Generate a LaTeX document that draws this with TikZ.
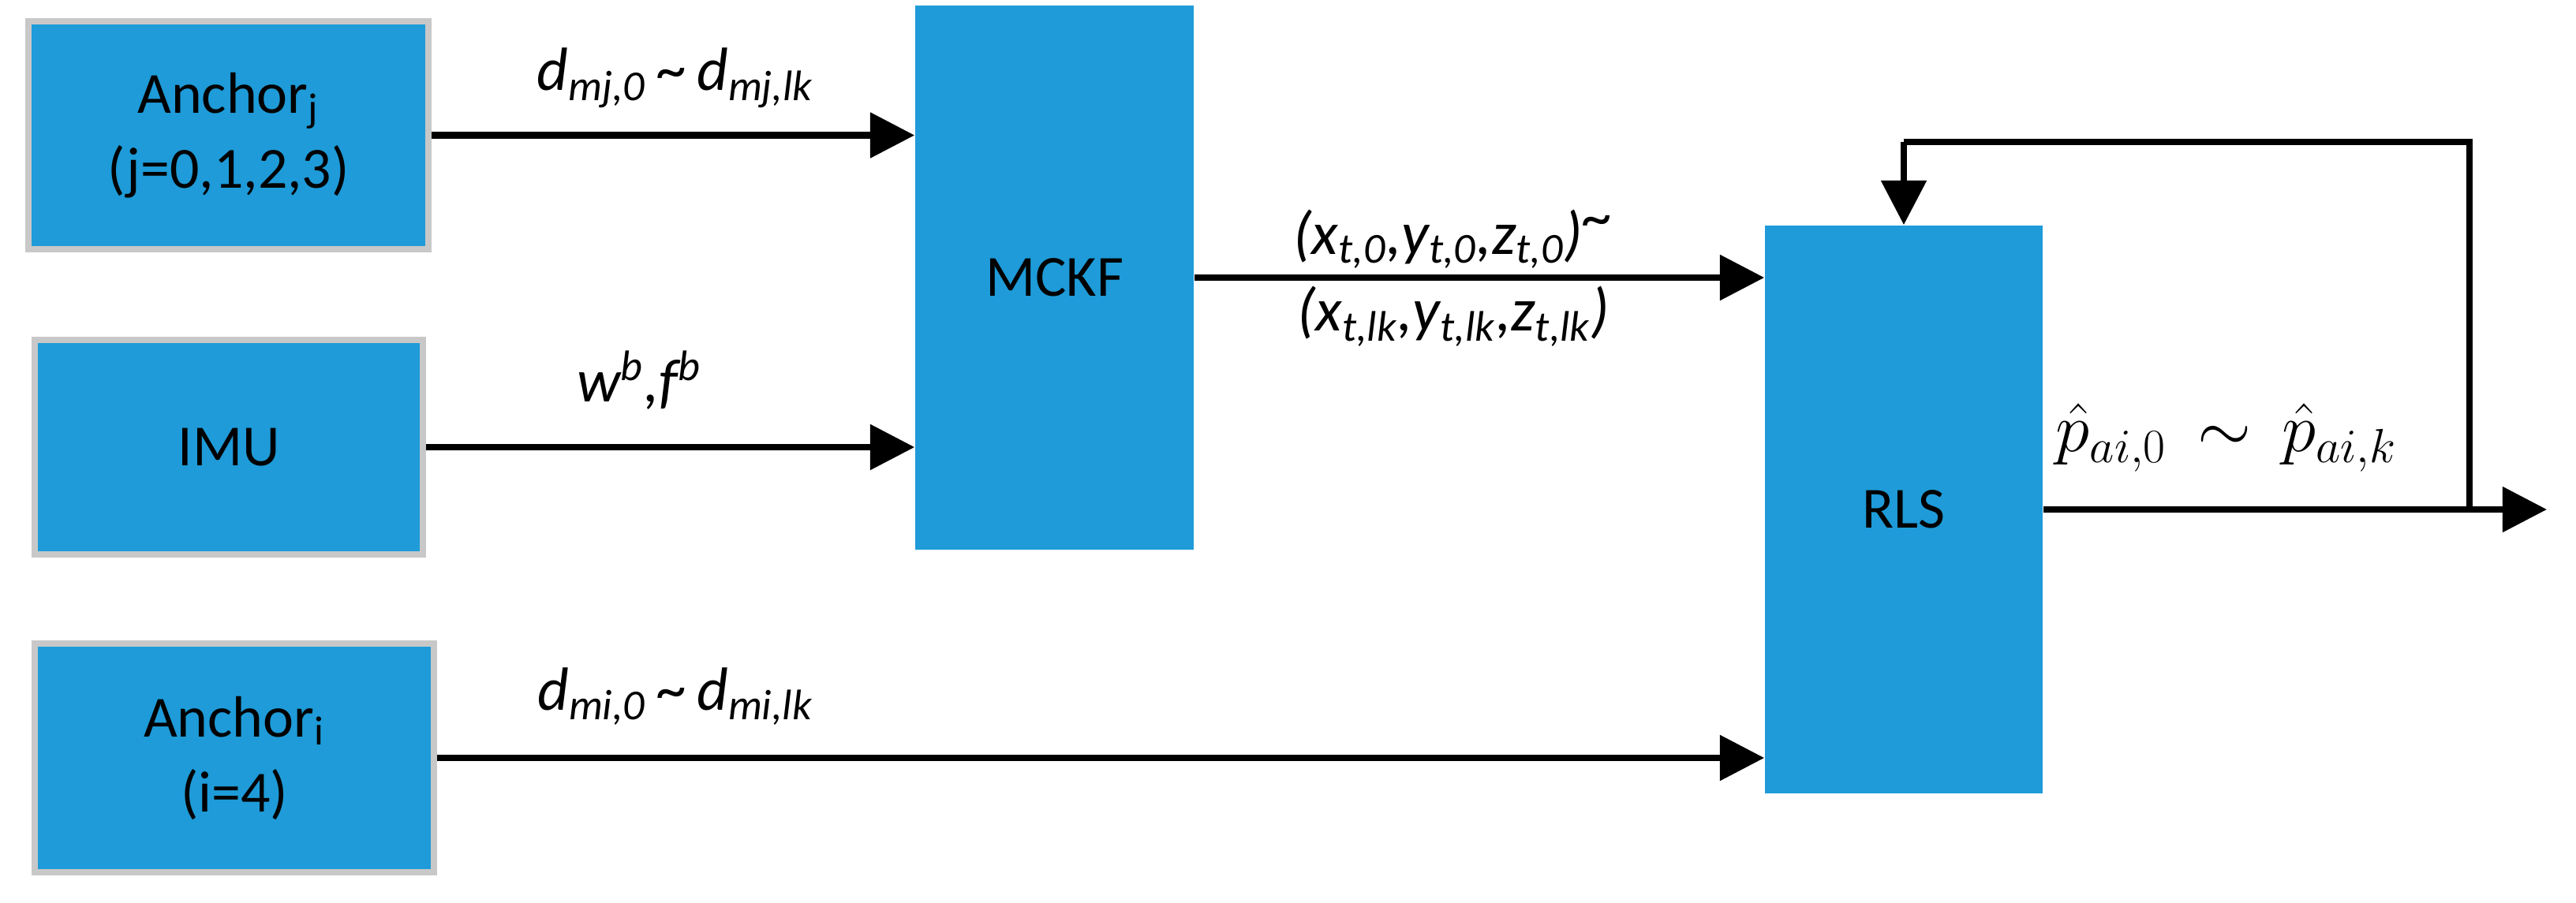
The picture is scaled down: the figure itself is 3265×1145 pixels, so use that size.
\documentclass[tikz,border=0pt]{standalone}
\usepackage{fontspec}
\setmainfont{Carlito}
\usetikzlibrary{arrows.meta}
\begin{document}
\begin{tikzpicture}[x=0.01cm,y=-0.01cm,
  blk/.style={fill={rgb,255:red,30;green,155;blue,216},inner sep=0pt,font=\fontsize{21}{27}\selectfont,align=center},
  gblk/.style={blk,draw={rgb,255:red,200;green,200;blue,200},line width=2.2pt},
  arr/.style={line width=2.3pt,-{Triangle[length=16pt,width=16pt]}},
  ln/.style={line width=2.3pt},
  lab/.style={font=\fontsize{22}{28}\selectfont\itshape,inner sep=0pt}]
\useasboundingbox (0,0) rectangle (3265,1145);
\node[gblk,minimum width=5.07cm,minimum height=2.89cm] (aj) at (289.5,171.5) {Anchor\textsubscript{j}\\(j=0,1,2,3)};
\node[gblk,minimum width=4.92cm,minimum height=2.72cm] (imu) at (290,567) {IMU};
\node[gblk,minimum width=5.06cm,minimum height=2.90cm] (ai) at (297,961) {Anchor\textsubscript{i}\\(i=4)};
\node[blk,minimum width=3.53cm,minimum height=6.90cm] (mckf) at (1336.5,352) {MCKF};
\node[blk,minimum width=3.52cm,minimum height=7.20cm] (rls) at (2413,646) {RLS};
\coordinate (out) at (3228,646);
\coordinate (fb) at (3130,646);
\coordinate (fbt) at (3130,180);
\coordinate (fbl) at (2413,180);
\draw[arr] (aj.east) -- (mckf.west |- aj.east);
\draw[arr] (imu.east) -- (mckf.west |- imu.east);
\draw[arr] (ai.east) -- (rls.west |- ai.east);
\draw[arr] (mckf.east) -- (rls.west |- mckf.east);
\draw[arr] (rls.east) -- (out);
\draw[ln,line join=miter] (fb) -- (fbt) -- (fbl);
\draw[arr] (fbl) -- (rls.north);
\node[lab] (l1) at (856,99) {d\textsubscript{mj,0}\,{\upshape\char`~}\,d\textsubscript{mj,lk}};
\node[lab] (l2) at (810,482) {w\textsuperscript{b},f\textsuperscript{b}};
\node[lab] (l3) at (856,883) {d\textsubscript{mi,0}\,{\upshape\char`~}\,d\textsubscript{mi,lk}};
\node[lab] (l4) at (1842,303) {(x\textsubscript{t,0},y\textsubscript{t,0},z\textsubscript{t,0})\raisebox{6pt}{\char`~}};
\node[lab] (l5) at (1842,401) {(x\textsubscript{t,lk},y\textsubscript{t,lk},z\textsubscript{t,lk})};
\node[inner sep=0pt,font=\fontsize{27}{32}\selectfont] (l6) at (2822,555) {$\hat{p}_{ai,0}\,\sim\,\hat{p}_{ai,k}$};
\end{tikzpicture}
\end{document}
